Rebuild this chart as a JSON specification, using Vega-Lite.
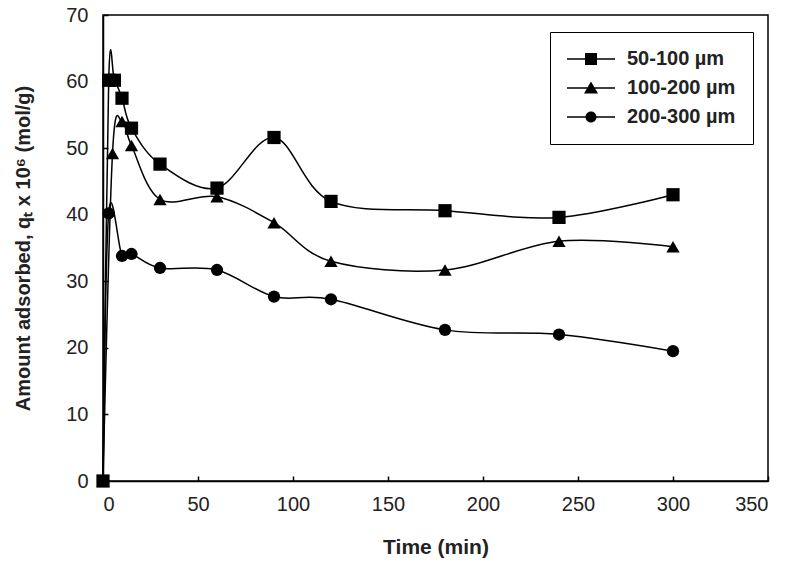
{
  "$schema": "https://vega.github.io/schema/vega-lite/v6.json",
  "width": 665,
  "height": 466,
  "autosize": {"type": "none"},
  "padding": {"left": 103, "top": 15, "right": 41, "bottom": 83},
  "background": "white",
  "config": {
    "view": {"stroke": "black", "strokeWidth": 1.5},
    "font": "Liberation Sans",
    "axis": {
      "grid": false,
      "domainColor": "black",
      "domainWidth": 1.5,
      "tickColor": "black",
      "tickWidth": 1.5,
      "tickSize": -5,
      "labelFont": "Liberation Sans",
      "labelFontSize": 20,
      "labelColor": "#222",
      "titleFont": "Liberation Sans",
      "titleFontWeight": "bold",
      "titleColor": "#222"
    }
  },
  "data": {
    "values": [
      {"series": "50-100 µm", "time": 0, "q": 0},
      {"series": "50-100 µm", "time": 3, "q": 60.2},
      {"series": "50-100 µm", "time": 6, "q": 60.2},
      {"series": "50-100 µm", "time": 10, "q": 57.5},
      {"series": "50-100 µm", "time": 15, "q": 53},
      {"series": "50-100 µm", "time": 30, "q": 47.6},
      {"series": "50-100 µm", "time": 60, "q": 44},
      {"series": "50-100 µm", "time": 90, "q": 51.6},
      {"series": "50-100 µm", "time": 120, "q": 42},
      {"series": "50-100 µm", "time": 180, "q": 40.6},
      {"series": "50-100 µm", "time": 240, "q": 39.6},
      {"series": "50-100 µm", "time": 300, "q": 43},
      {"series": "100-200 µm", "time": 0, "q": 0},
      {"series": "100-200 µm", "time": 5, "q": 49.2},
      {"series": "100-200 µm", "time": 10, "q": 54},
      {"series": "100-200 µm", "time": 15, "q": 50.4},
      {"series": "100-200 µm", "time": 30, "q": 42.3},
      {"series": "100-200 µm", "time": 60, "q": 42.7},
      {"series": "100-200 µm", "time": 90, "q": 38.8},
      {"series": "100-200 µm", "time": 120, "q": 33},
      {"series": "100-200 µm", "time": 180, "q": 31.7},
      {"series": "100-200 µm", "time": 240, "q": 36},
      {"series": "100-200 µm", "time": 300, "q": 35.2},
      {"series": "200-300 µm", "time": 0, "q": 0},
      {"series": "200-300 µm", "time": 3, "q": 40.2},
      {"series": "200-300 µm", "time": 10, "q": 33.8},
      {"series": "200-300 µm", "time": 15, "q": 34.1},
      {"series": "200-300 µm", "time": 30, "q": 32},
      {"series": "200-300 µm", "time": 60, "q": 31.7},
      {"series": "200-300 µm", "time": 90, "q": 27.7},
      {"series": "200-300 µm", "time": 120, "q": 27.3},
      {"series": "200-300 µm", "time": 180, "q": 22.7},
      {"series": "200-300 µm", "time": 240, "q": 22},
      {"series": "200-300 µm", "time": 300, "q": 19.5}
    ]
  },
  "encoding": {
    "x": {
      "field": "time",
      "type": "quantitative",
      "scale": {"domain": [0, 350], "nice": false, "zero": true},
      "axis": {
        "values": [0, 50, 100, 150, 200, 250, 300, 350],
        "title": "Time (min)",
        "titleFontSize": 21,
        "labelPadding": 18,
        "titlePadding": 22
      }
    },
    "y": {
      "field": "q",
      "type": "quantitative",
      "scale": {"domain": [0, 70], "nice": false},
      "axis": {
        "values": [0, 10, 20, 30, 40, 50, 60, 70],
        "title": "Amount adsorbed, qₜ x 10⁶ (mol/g)",
        "titleFontSize": 20,
        "labelPadding": 20,
        "titlePadding": 32
      }
    }
  },
  "layer": [
    {
      "mark": {"type": "line", "interpolate": "cardinal", "color": "black", "strokeWidth": 1.5},
      "encoding": {"detail": {"field": "series"}}
    },
    {
      "transform": [{"filter": "datum.series === '50-100 µm'"}],
      "mark": {"type": "point", "shape": "square", "filled": true, "color": "black", "opacity": 1, "size": 175}
    },
    {
      "transform": [{"filter": "datum.series === '100-200 µm'"}],
      "mark": {"type": "point", "shape": "triangle-up", "filled": true, "color": "black", "opacity": 1, "size": 175}
    },
    {
      "transform": [{"filter": "datum.series === '200-300 µm'"}],
      "mark": {"type": "point", "shape": "circle", "filled": true, "color": "black", "opacity": 1, "size": 150}
    },
    {
      "mark": {"type": "point", "filled": true, "color": "black", "opacity": 0, "size": 100},
      "encoding": {
        "shape": {
          "field": "series",
          "type": "nominal",
          "scale": {
            "domain": ["50-100 µm", "100-200 µm", "200-300 µm"],
            "range": [
              "M-2,-0.15H7.6V0.15H-2ZM1.6,-1.2H4V1.2H1.6Z",
              "M-2,-0.15H7.6V0.15H-2ZM2.8,-1.3L4.2,1.1H1.4Z",
              "M-2,-0.15H7.6V0.15H-2ZM3.9,0A1.1,1.1 0 1,1 1.7,0A1.1,1.1 0 1,1 3.9,0Z"
            ]
          },
          "legend": {
            "title": null,
            "orient": "none",
            "legendX": 447,
            "legendY": 17,
            "padding": 17,
            "strokeColor": "black",
            "fillColor": "white",
            "symbolSize": 100,
            "symbolOpacity": 1,
            "symbolFillColor": "black",
            "labelFont": "Liberation Sans",
            "labelFontWeight": "bold",
            "labelFontSize": 20,
            "labelColor": "#222",
            "labelOffset": 40,
            "rowPadding": 9
          }
        }
      }
    }
  ]
}
